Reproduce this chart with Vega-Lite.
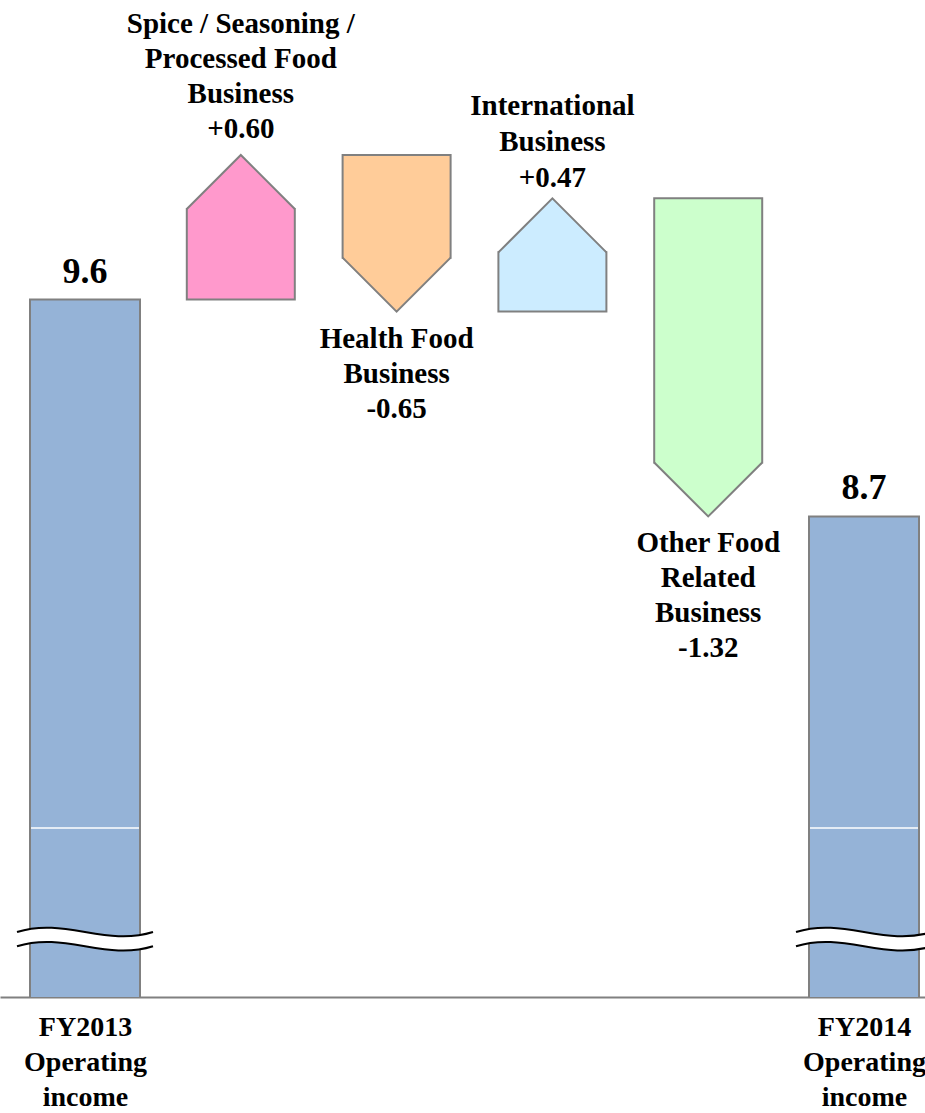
{
  "$schema": "https://vega.github.io/schema/vega-lite/v6.json",
  "width": 925,
  "height": 997,
  "autosize": "none",
  "padding": {"left": 0, "top": 0, "right": 0, "bottom": 116},
  "background": "white",
  "config": {"view": {"stroke": null}},
  "data": {
    "values": [
      {"i": 0, "name": "FY2013", "kind": "total", "to": 9.6, "label": ["9.6"]},
      {"i": 1, "name": "Spice / Seasoning / Processed Food Business", "kind": "up", "from": 9.6, "to": 10.2, "label": ["Spice / Seasoning /", "Processed Food", "Business", "+0.60"]},
      {"i": 2, "name": "Health Food Business", "kind": "down", "from": 10.2, "to": 9.55, "label": ["Health Food", "Business", "-0.65"]},
      {"i": 3, "name": "International Business", "kind": "up", "from": 9.55, "to": 10.02, "label": ["International", "Business", "+0.47"]},
      {"i": 4, "name": "Other Food Related Business", "kind": "down", "from": 10.02, "to": 8.7, "label": ["Other Food", "Related", "Business", "-1.32"]},
      {"i": 5, "name": "FY2014", "kind": "total", "to": 8.7, "label": ["8.7"]}
    ]
  },
  "encoding": {
    "x": {
      "field": "i",
      "type": "quantitative",
      "scale": {"domain": [-0.5456, 5.3915], "nice": false, "zero": false, "padding": 0},
      "axis": {
        "values": [0, 5],
        "labelExpr": "datum.value == 0 ? ['FY2013','Operating','income'] : ['FY2014','Operating','income']",
        "ticks": false,
        "grid": false,
        "domain": true,
        "domainColor": "#808080",
        "domainWidth": 2,
        "labelFont": "Liberation Serif",
        "labelFontSize": 28,
        "labelFontWeight": "bold",
        "labelColor": "#000000",
        "labelLineHeight": 35,
        "labelPadding": 16,
        "labelBaseline": "top",
        "labelOverlap": false,
        "labelBound": false,
        "labelFlush": false,
        "title": null
      }
    },
    "y": {
      "field": "to",
      "type": "quantitative",
      "scale": {"domain": [6.706, 10.843], "nice": false, "zero": false, "padding": 0},
      "axis": null
    }
  },
  "layer": [
    {
      "transform": [{"filter": "datum.kind == 'total'"}],
      "mark": {"type": "bar", "width": 110, "stroke": "#808080", "strokeWidth": 2, "clip": true},
      "encoding": {
        "fill": {
          "field": "name",
          "type": "nominal",
          "scale": {
            "domain": ["FY2013", "Spice / Seasoning / Processed Food Business", "Health Food Business", "International Business", "Other Food Related Business", "FY2014"],
            "range": ["#95B3D7", "#FF99CC", "#FFCC99", "#CCECFF", "#CCFFCC", "#95B3D7"]
          },
          "legend": null
        }
      }
    },
    {
      "transform": [{"filter": "datum.kind == 'total'"}],
      "mark": {"type": "tick", "orient": "horizontal", "color": "white", "size": 108, "thickness": 1.5, "opacity": 1},
      "encoding": {"y": {"datum": 7.407, "type": "quantitative"}}
    },
    {
      "transform": [{"filter": "datum.kind == 'total'"}],
      "mark": {
        "type": "point",
        "shape": "M-1,-0.12 C-0.3,-0.34 0.3,0.1 1,-0.12 L1,0.09 C0.3,0.31 -0.3,-0.13 -1,0.09 Z",
        "filled": true,
        "fill": "white",
        "strokeWidth": 0,
        "opacity": 1,
        "size": 18496
      },
      "encoding": {"y": {"datum": 6.942, "type": "quantitative"}}
    },
    {
      "transform": [{"filter": "datum.kind == 'total'"}],
      "mark": {
        "type": "point",
        "shape": "M-1,-0.12 C-0.3,-0.34 0.3,0.1 1,-0.12 M-1,0.09 C-0.3,-0.13 0.3,0.31 1,0.09",
        "filled": false,
        "stroke": "black",
        "color": "black",
        "strokeWidth": 2,
        "opacity": 1,
        "size": 18496
      },
      "encoding": {"y": {"datum": 6.942, "type": "quantitative"}}
    },
    {
      "transform": [{"filter": "datum.kind != 'total'"}],
      "mark": {"type": "bar", "width": 108, "stroke": "#808080", "strokeWidth": 2},
      "encoding": {
        "y": {"field": "from", "type": "quantitative"},
        "y2": {"field": "to"},
        "fill": {"field": "name", "type": "nominal", "legend": null}
      }
    },
    {
      "transform": [{"filter": "datum.kind == 'up'"}],
      "mark": {
        "type": "point",
        "shape": "M-1.06,-0.1 L1.06,-0.1 L1.06,0.98 L1,0.98 L0,0 L-1,0.98 L-1.06,0.98 Z",
        "filled": true,
        "fill": "white",
        "strokeWidth": 0,
        "opacity": 1,
        "size": 11664
      }
    },
    {
      "transform": [{"filter": "datum.kind == 'down'"}],
      "mark": {
        "type": "point",
        "shape": "M-1.06,0.1 L1.06,0.1 L1.06,-0.98 L1,-0.98 L0,0 L-1,-0.98 L-1.06,-0.98 Z",
        "filled": true,
        "fill": "white",
        "strokeWidth": 0,
        "opacity": 1,
        "size": 11664
      }
    },
    {
      "transform": [{"filter": "datum.kind == 'up'"}],
      "mark": {
        "type": "point",
        "shape": "M-1,1 L0,0 L1,1",
        "filled": false,
        "stroke": "#808080",
        "color": "#808080",
        "strokeWidth": 2,
        "strokeJoin": "miter",
        "opacity": 1,
        "size": 11664
      }
    },
    {
      "transform": [{"filter": "datum.kind == 'down'"}],
      "mark": {
        "type": "point",
        "shape": "M-1,-1 L0,0 L1,-1",
        "filled": false,
        "stroke": "#808080",
        "color": "#808080",
        "strokeWidth": 2,
        "strokeJoin": "miter",
        "opacity": 1,
        "size": 11664
      }
    },
    {
      "transform": [{"filter": "datum.i == 1"}],
      "mark": {
        "type": "text",
        "font": "Liberation Serif",
        "fontSize": 29,
        "fontWeight": "bold",
        "color": "#000000",
        "align": "center",
        "baseline": "bottom",
        "lineHeight": 35,
        "dy": -116
      },
      "encoding": {"text": {"field": "label", "type": "nominal"}}
    },
    {
      "transform": [{"filter": "datum.i == 3"}],
      "mark": {
        "type": "text",
        "font": "Liberation Serif",
        "fontSize": 29,
        "fontWeight": "bold",
        "color": "#000000",
        "align": "center",
        "baseline": "bottom",
        "lineHeight": 36,
        "dy": -77
      },
      "encoding": {"text": {"field": "label", "type": "nominal"}}
    },
    {
      "transform": [{"filter": "datum.kind == 'down'"}],
      "mark": {
        "type": "text",
        "font": "Liberation Serif",
        "fontSize": 29,
        "fontWeight": "bold",
        "color": "#000000",
        "align": "center",
        "baseline": "top",
        "lineHeight": 35,
        "dy": 13
      },
      "encoding": {"text": {"field": "label", "type": "nominal"}}
    },
    {
      "transform": [{"filter": "datum.kind == 'total'"}],
      "mark": {
        "type": "text",
        "font": "Liberation Serif",
        "fontSize": 36,
        "fontWeight": "bold",
        "color": "#000000",
        "align": "center",
        "baseline": "bottom",
        "dy": -9
      },
      "encoding": {"text": {"field": "label", "type": "nominal"}}
    }
  ]
}
